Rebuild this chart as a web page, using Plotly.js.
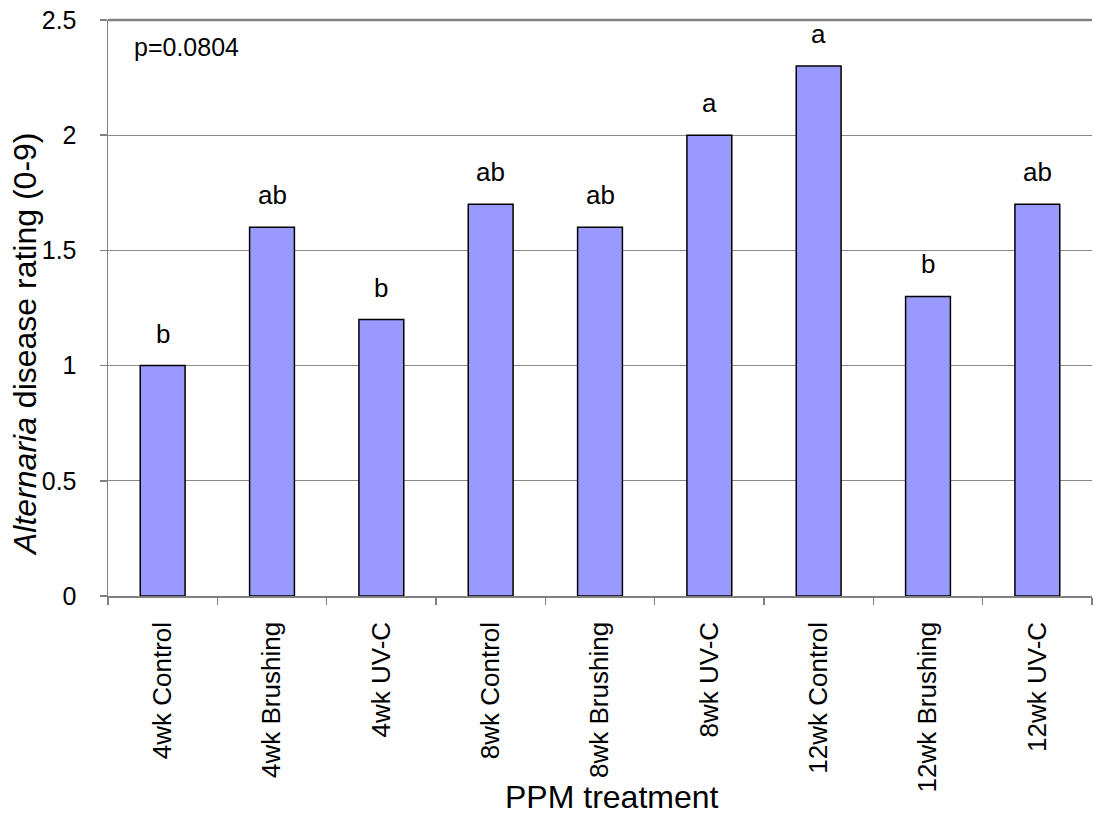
<!DOCTYPE html>
<html>
<head>
<meta charset="utf-8">
<script src="https://cdn.plot.ly/plotly-3.0.1.min.js"></script>
<style>
  html, body { margin: 0; padding: 0; background: #fff; }
  #chart { width: 1099px; height: 822px; }
</style>
</head>
<body>
<div id="chart"></div>
<script>
// Treatment categories and mean Alternaria ratings
const treatments = ["4wk Control", "4wk Brushing", "4wk UV-C", "8wk Control", "8wk Brushing",
                    "8wk UV-C", "12wk Control", "12wk Brushing", "12wk UV-C"];
const ratings = [1.0, 1.6, 1.2, 1.7, 1.6, 2.0, 2.3, 1.3, 1.7];
const letters = ["b", "ab", "b", "ab", "ab", "a", "a", "b", "ab"];
const yTicks = [0, 0.5, 1, 1.5, 2, 2.5];
const yTickText = ["0", "0.5", "1", "1.5", "2", "2.5"];

const fontFamily = "Liberation Sans, Arial, sans-serif";
const textFont = (size) => ({ family: fontFamily, size: size, color: "#000" });

const trace = {
  type: "bar",
  x: treatments,
  y: ratings,
  marker: { color: "#9999FF", line: { color: "#000000", width: 1.5 } },
  hoverinfo: "x+y"
};

// Significance letters sitting above each bar
const letterNotes = treatments.map((t, i) => ({
  x: t, y: ratings[i], xref: "x", yref: "y",
  text: letters[i], showarrow: false,
  yanchor: "bottom", yshift: 15,
  font: textFont(26)
}));

// Axis titles drawn as annotations so they sit where the labels leave room
const titleNotes = [
  {
    xref: "paper", yref: "paper", x: 0.512, y: 0, yshift: -201,
    xanchor: "center", yanchor: "middle",
    text: "PPM treatment", showarrow: false, font: textFont(32)
  },
  {
    xref: "paper", yref: "paper", x: 0, xshift: -83, y: 0.4375,
    xanchor: "center", yanchor: "middle", textangle: -90,
    text: "<i>Alternaria</i> disease rating (0-9)", showarrow: false, font: textFont(32)
  },
  {
    xref: "paper", yref: "paper", x: 0.024, y: 0.953,
    xanchor: "left", yanchor: "middle",
    text: "p=0.0804", showarrow: false, font: textFont(25)
  }
];

const layout = {
  width: 1099, height: 822,
  margin: { l: 108, r: 7, t: 20, b: 226 },
  paper_bgcolor: "#fff", plot_bgcolor: "#fff",
  bargap: 0.59,
  showlegend: false,
  font: { family: fontFamily, color: "#000" },
  xaxis: {
    type: "category",
    tickangle: -90,
    tickfont: textFont(26),
    ticks: "outside", tickson: "boundaries", ticklen: 7, tickcolor: "#808080", tickwidth: 1.5,
    ticklabelstandoff: 14,
    showline: true, linecolor: "#808080", linewidth: 1.5,
    showgrid: false, zeroline: false
  },
  yaxis: {
    range: [0, 2.5],
    tickvals: yTicks, ticktext: yTickText,
    tickfont: textFont(25),
    ticks: "outside", ticklen: 7, tickcolor: "#808080", tickwidth: 1.5,
    ticklabelstandoff: 18,
    showline: true, linecolor: "#808080", linewidth: 1.5,
    showgrid: true, gridcolor: "#8a8a8a", gridwidth: 1,
    zeroline: false
  },
  annotations: titleNotes.concat(letterNotes),
  shapes: [
    { type: "line", xref: "paper", yref: "paper", x0: 0, x1: 1, y0: 1, y1: 1,
      line: { color: "#808080", width: 2.5 } }
  ]
};

Plotly.newPlot("chart", [trace], layout, { displayModeBar: false, staticPlot: true });
</script>
</body>
</html>
